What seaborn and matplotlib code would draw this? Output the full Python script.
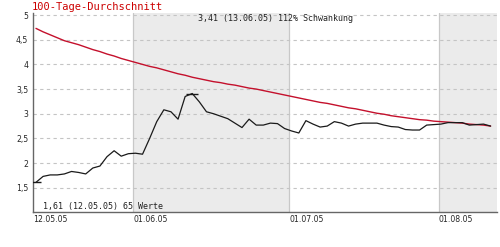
import matplotlib
matplotlib.use("Agg")
import matplotlib.pyplot as plt
import seaborn as sns
import numpy as np
import pandas as pd

# --- data (trading-day index, 65 values) ---
price = [1.61, 1.73, 1.76, 1.76, 1.78, 1.83, 1.81, 1.78, 1.90, 1.94,
         2.13, 2.25, 2.14, 2.19, 2.20, 2.18, 2.50, 2.84, 3.08, 3.04,
         2.89, 3.35, 3.41, 3.24, 3.04, 3.00, 2.95, 2.90, 2.81, 2.72,
         2.89, 2.77, 2.77, 2.81, 2.80, 2.70, 2.65, 2.61, 2.86, 2.79,
         2.73, 2.75, 2.84, 2.81, 2.75, 2.79, 2.81, 2.81, 2.81, 2.77,
         2.74, 2.73, 2.68, 2.67, 2.67, 2.77, 2.78, 2.79, 2.82, 2.82,
         2.82, 2.77, 2.78, 2.79, 2.75]
avg100 = [4.73, 4.66, 4.60, 4.54, 4.48, 4.44, 4.40, 4.35, 4.30, 4.26,
          4.21, 4.17, 4.12, 4.08, 4.04, 4.00, 3.96, 3.93, 3.89, 3.85,
          3.81, 3.78, 3.74, 3.71, 3.68, 3.65, 3.63, 3.60, 3.58, 3.55,
          3.52, 3.50, 3.47, 3.44, 3.41, 3.38, 3.35, 3.32, 3.29, 3.26,
          3.23, 3.21, 3.18, 3.15, 3.12, 3.10, 3.07, 3.04, 3.01, 2.99,
          2.96, 2.94, 2.92, 2.90, 2.88, 2.87, 2.85, 2.84, 2.83, 2.82,
          2.81, 2.79, 2.78, 2.77, 2.75]
month_start_idx = [0, 14, 36, 57]
month_labels = ["12.05.05", "01.06.05", "01.07.05", "01.08.05"]
ytick_vals = [1.5, 2, 2.5, 3, 3.5, 4, 4.5, 5]
ytick_labels = ["1,5", "2", "2,5", "3", "3,5", "4", "4,5", "5"]
title_text = "100-Tage-Durchschnitt"
max_text = "3,41 (13.06.05) 112% Schwankung"
min_text = "1,61 (12.05.05) 65 Werte"

df = pd.DataFrame({"idx": np.arange(len(price)), "price": price, "avg": avg100})

sns.set_style("white")
fig = plt.figure(figsize=(5.0, 2.47), dpi=100)
ax = fig.add_axes([0.066, 0.142, 0.928, 0.805])

x_left, x_right = -0.42, 64.9
ax.set_xlim(x_left, x_right)
ax.set_ylim(1.01, 5.04)

# month bands (June, August shaded)
edges = [m - 0.33 for m in month_start_idx] + [x_right]
edges[0] = x_left
for i in range(len(month_start_idx)):
    if i % 2 == 1:
        ax.axvspan(edges[i], edges[i + 1], color="#ebebeb", lw=0, zorder=0)
for e in edges[1:-1]:
    ax.axvline(e, color="#c8c8c8", lw=0.9, zorder=1)

for v in ytick_vals:
    ax.axhline(v, color="#c4c4c4", lw=0.8, ls=(0, (3, 3)), zorder=1)

sns.lineplot(data=df, x="idx", y="avg", ax=ax, color="#c4102c", lw=1.0, zorder=3)
sns.lineplot(data=df, x="idx", y="price", ax=ax, color="#1a1a1a", lw=0.9, zorder=4)

imax = int(np.argmax(price)); imin = int(np.argmin(price))
ax.plot([imax], [price[imax]], marker="_", ms=8, mew=1.0, color="#1a1a1a", zorder=5)
ax.plot([imin], [price[imin]], marker="_", ms=7, mew=1.0, color="#1a1a1a", zorder=5)

ax.set_xlabel(""); ax.set_ylabel("")
ax.set_xticks([x_left] + [m - 0.33 for m in month_start_idx[1:]])
ax.set_xticklabels(month_labels, fontsize=5.6, ha="left", family="DejaVu Sans")
ax.tick_params(axis="x", length=0, pad=2)
ax.set_yticks(ytick_vals)
ax.set_yticklabels(ytick_labels, fontsize=5.6, family="DejaVu Sans")
ax.tick_params(axis="y", length=2, pad=1.5, color="#555555")

for s in ["top", "right"]:
    ax.spines[s].set_visible(False)
for s in ["left", "bottom"]:
    ax.spines[s].set_color("#666666")
    ax.spines[s].set_linewidth(1.0)

ax.text(0.356, 0.975, max_text, transform=ax.transAxes, fontsize=6,
        family="DejaVu Sans Mono", va="center", ha="left", color="#222222")
ax.text(0.022, 0.026, min_text, transform=ax.transAxes, fontsize=6,
        family="DejaVu Sans Mono", va="center", ha="left", color="#222222")
fig.text(0.064, 0.972, title_text, fontsize=7.5, family="DejaVu Sans Mono",
         color="#cc0000", va="center", ha="left")

fig.savefig("out.png", dpi=100, facecolor="white")
